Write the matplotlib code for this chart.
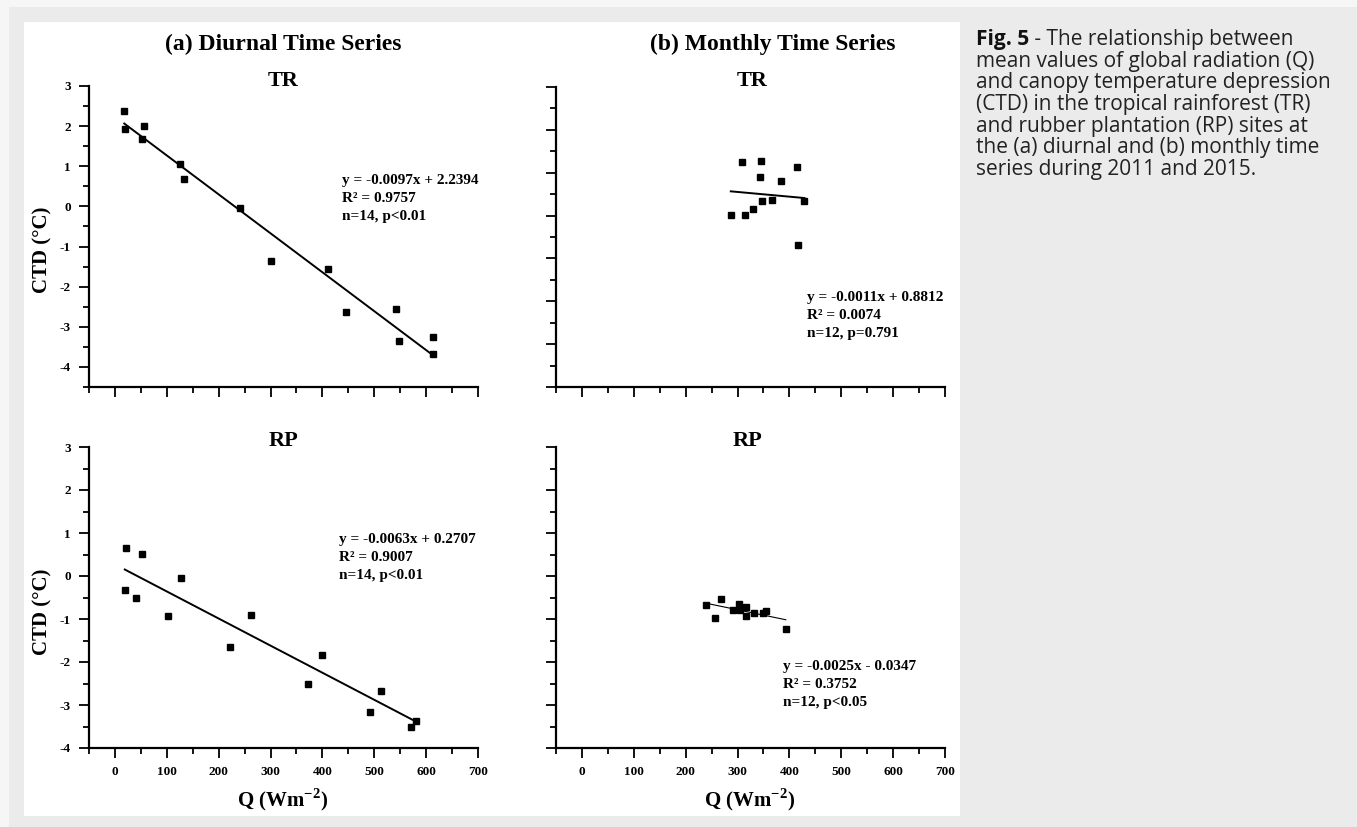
import matplotlib
matplotlib.use("Agg")
import matplotlib.pyplot as plt
import numpy as np
from matplotlib.patches import Rectangle
from matplotlib.ticker import MultipleLocator

plt.rcParams['font.family'] = ['Liberation Serif', 'DejaVu Serif']
plt.rcParams['font.weight'] = 'bold'
plt.rcParams['axes.unicode_minus'] = False
plt.rcParams['mathtext.fontset'] = 'custom'
plt.rcParams['mathtext.rm'] = 'Liberation Serif'
plt.rcParams['mathtext.bf'] = 'Liberation Serif:bold'

# (a) diurnal, TR
tr_day_q = [18, 20, 57, 53, 125, 134, 242, 300, 410, 445, 541, 548, 613, 613]
tr_day_ctd = [2.38, 1.94, 2.01, 1.68, 1.05, 0.68, -0.04, -1.36, -1.56, -2.64, -2.55, -3.35, -3.26, -3.68]
# (a) diurnal, RP
rp_day_q = [21, 53, 19, 41, 127, 102, 222, 262, 373, 400, 492, 513, 571, 580]
rp_day_ctd = [0.64, 0.52, -0.32, -0.50, -0.05, -0.93, -1.64, -0.91, -2.50, -1.83, -3.16, -2.68, -3.50, -3.37]
# (b) monthly, TR
tr_mon_q = [308, 345, 414, 343, 383, 287, 315, 329, 348, 366, 429, 417]
tr_mon_ctd = [1.24, 1.27, 1.13, 0.89, 0.80, 0.01, 0.01, 0.16, 0.33, 0.36, 0.35, -0.69]
# (b) monthly, RP
rp_mon_q = [239, 257, 269, 291, 302, 304, 317, 317, 331, 349, 354, 393]
rp_mon_ctd = [-0.68, -0.97, -0.54, -0.79, -0.64, -0.78, -0.71, -0.94, -0.85, -0.85, -0.82, -1.23]

# regression (slope, intercept) and stats text
fits = {
    'tr_day': (-0.0097, 2.2394, 'y = -0.0097x + 2.2394', 'R² = 0.9757', 'n=14, p<0.01'),
    'rp_day': (-0.0063, 0.2707, 'y = -0.0063x + 0.2707', 'R² = 0.9007', 'n=14, p<0.01'),
    'tr_mon': (-0.0011, 0.8812, 'y = -0.0011x + 0.8812', 'R² = 0.0074', 'n=12, p=0.791'),
    'rp_mon': (-0.0025, -0.0347, 'y = -0.0025x - 0.0347', 'R² = 0.3752', 'n=12, p<0.05'),
}

caption = ["mean values of global radiation (Q)",
           "and canopy temperature depression",
           "(CTD) in the tropical rainforest (TR)",
           "and rubber plantation (RP) sites at",
           "the (a) diurnal and (b) monthly time",
           "series during 2011 and 2015."]

W, H = 1357, 827
fig = plt.figure(figsize=(W / 100, H / 100), dpi=100, facecolor='#f6f6f6')
fig.patches.append(Rectangle((9 / W, 0), 1, 1 - 7 / H, transform=fig.transFigure,
                             facecolor='#ebebeb', edgecolor='none', zorder=-6))
fig.patches.append(Rectangle((24 / W, 1 - 816 / H), (960 - 24) / W, (816 - 22) / H,
                             transform=fig.transFigure, facecolor='white', edgecolor='none', zorder=-5))


def px_axes(l, t, r, b):
    return fig.add_axes([l / W, 1 - b / H, (r - l) / W, (b - t) / H])


def panel(ax, q, ctd, key, ylim, txt_xy, lw, show_x, show_y):
    slope, icpt, l1, l2, l3 = fits[key]
    ax.plot(q, ctd, 's', color='black', ms=3.8, zorder=3)
    xs = np.array([min(q), max(q)])
    ax.plot(xs, slope * xs + icpt, color='black', lw=lw)
    ax.set_xlim(-50, 700)
    ax.set_ylim(*ylim)
    ax.xaxis.set_major_locator(MultipleLocator(100))
    ax.xaxis.set_minor_locator(MultipleLocator(50))
    ax.yaxis.set_major_locator(MultipleLocator(1))
    ax.yaxis.set_minor_locator(MultipleLocator(0.5))
    for s in ['top', 'right']:
        ax.spines[s].set_visible(False)
    for s in ['left', 'bottom']:
        ax.spines[s].set_linewidth(1.6)
    ax.tick_params(which='major', direction='out', length=7, width=1.3, labelsize=9.5, pad=6)
    ax.tick_params(which='minor', direction='out', length=4, width=1.3)
    ax.tick_params(axis='x', labelbottom=show_x)
    ax.tick_params(axis='y', labelleft=show_y)
    for lab in ax.get_xticklabels() + ax.get_yticklabels():
        lab.set_fontweight('bold')
    ax.set_facecolor('none')
    ax.text(txt_xy[0], txt_xy[1], l1 + '\n' + l2 + '\n' + l3, fontsize=11, fontweight='bold',
            va='top', ha='left', linespacing=1.5)


ax1 = px_axes(89, 86, 478, 387)
panel(ax1, tr_day_q, tr_day_ctd, 'tr_day', (-4.5, 3), (438, 0.80), 1.4, False, True)
ax2 = px_axes(556, 87, 945, 387)
panel(ax2, tr_mon_q, tr_mon_ctd, 'tr_mon', (-4, 3), (433, -1.76), 1.4, False, False)
ax3 = px_axes(89, 447, 478, 748)
panel(ax3, rp_day_q, rp_day_ctd, 'rp_day', (-4, 3), (432, 1.0), 1.4, True, True)
ax4 = px_axes(556, 447, 945, 748)
panel(ax4, rp_mon_q, rp_mon_ctd, 'rp_mon', (-4, 3), (388, -1.96), 0.8, True, False)


def ftext(x, y, s, **kw):
    return fig.text(x / W, 1 - y / H, s, **kw)


ftext(283, 44, '(a) Diurnal Time Series', fontsize=17, fontweight='bold', ha='center', va='center')
ftext(773, 44, '(b) Monthly Time Series', fontsize=17, fontweight='bold', ha='center', va='center')
ftext(283, 81, 'TR', fontsize=16, fontweight='bold', ha='center', va='center')
ftext(752, 81, 'TR', fontsize=16, fontweight='bold', ha='center', va='center')
ftext(283, 441, 'RP', fontsize=16, fontweight='bold', ha='center', va='center')
ftext(747, 441, 'RP', fontsize=16, fontweight='bold', ha='center', va='center')
ftext(42, 250, 'CTD (°C)', fontsize=15, fontweight='bold', rotation=90, ha='center', va='center')
ftext(42, 612, 'CTD (°C)', fontsize=15, fontweight='bold', rotation=90, ha='center', va='center')
ftext(283, 800, r'Q (Wm$^{\mathbf{-2}}$)', fontsize=15, fontweight='bold', ha='center', va='center')
ftext(750, 800, r'Q (Wm$^{\mathbf{-2}}$)', fontsize=15, fontweight='bold', ha='center', va='center')

# caption
cap_font = ['Open Sans', 'DejaVu Sans']
t1 = ftext(976, 45, 'Fig. 5', fontsize=15, fontweight='bold', family=cap_font,
           color='#111111', va='baseline')
ax1.annotate(' - The relationship between', xy=(1, 0), xycoords=t1, va='bottom', ha='left',
             fontsize=15, fontweight='normal', family=cap_font, color='#222222',
             annotation_clip=False)
for i, line in enumerate(caption):
    ftext(976, 45 + 21.7 * (i + 1), line, fontsize=15, fontweight='normal', family=cap_font,
          color='#222222', va='baseline')

fig.savefig('out.png', dpi=100, facecolor=fig.get_facecolor())
